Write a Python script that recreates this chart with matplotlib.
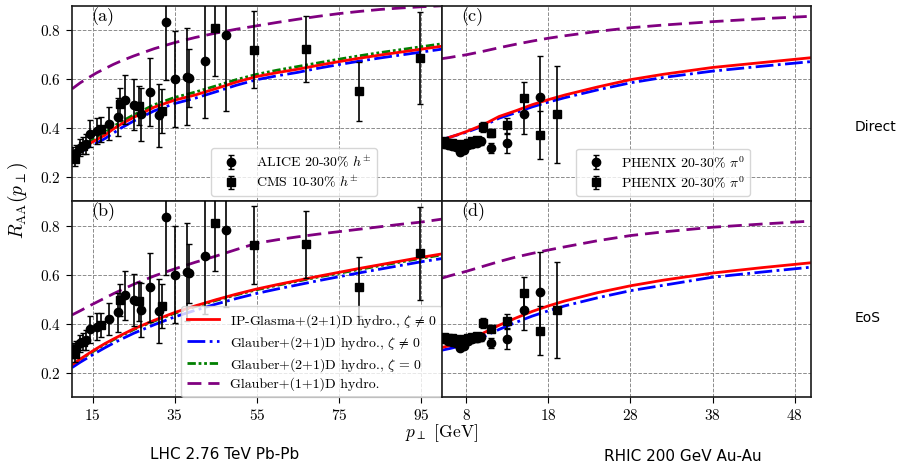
import matplotlib
matplotlib.use("Agg")
import matplotlib.pyplot as plt

plt.rcParams["font.family"] = ["cmr10", "DejaVu Serif"]
plt.rcParams["mathtext.fontset"] = "cm"
plt.rcParams["axes.formatter.use_mathtext"] = True
plt.rcParams["axes.unicode_minus"] = False

# ---- LHC data (same points in panels a and b) ----
alice_pt = [10.3, 11.0, 11.9, 13.3, 14.5, 16.1, 19.0, 21.1, 23.0, 25.1, 26.9, 29.0,
            31.1, 33.0, 35.0, 37.9, 38.5, 42.4, 47.4]
alice_raa = [0.29, 0.299, 0.319, 0.333, 0.376, 0.387, 0.418, 0.445, 0.516, 0.496, 0.455,
             0.548, 0.451, 0.833, 0.60, 0.61, 0.605, 0.675, 0.782]
alice_err = [0.03, 0.03, 0.035, 0.04, 0.055, 0.055, 0.066, 0.078, 0.10, 0.105, 0.11, 0.14,
             0.13, 0.235, 0.198, 0.20, 0.12, 0.236, 0.313]

cms_pt = [10.7, 12.7, 17.0, 21.7, 26.4, 32.0, 44.7, 54.3, 67.0, 79.8, 94.8]
cms_raa = [0.274, 0.326, 0.394, 0.497, 0.49, 0.471, 0.809, 0.72, 0.723, 0.55, 0.686]
cms_err = [0.03, 0.035, 0.05, 0.065, 0.08, 0.09, 0.195, 0.158, 0.136, 0.121, 0.188]

# ---- LHC model curves ----
lhc_pt = [10, 12, 14, 16, 18, 20, 22, 25, 30, 35, 40, 45, 50, 55, 60, 65, 70, 75, 80,
          85, 90, 95, 100]
# panel (a): Direct
a_ipg = [0.27, 0.315, 0.333, 0.352, 0.37, 0.395, 0.416, 0.443, 0.485, 0.514, 0.535, 0.561,
         0.588, 0.611, 0.627, 0.641, 0.657, 0.672, 0.686, 0.699, 0.711, 0.723, 0.735]
a_glb = [0.262, 0.30, 0.32, 0.338, 0.356, 0.378, 0.40, 0.428, 0.47, 0.50, 0.522, 0.548,
         0.575, 0.598, 0.614, 0.628, 0.645, 0.66, 0.674, 0.687, 0.699, 0.711, 0.723]
a_glb0 = [0.275, 0.32, 0.34, 0.36, 0.38, 0.405, 0.426, 0.453, 0.495, 0.525, 0.547, 0.572,
          0.598, 0.62, 0.637, 0.652, 0.667, 0.682, 0.696, 0.709, 0.721, 0.733, 0.745]
a_1d = [0.56, 0.585, 0.606, 0.626, 0.643, 0.66, 0.675, 0.695, 0.725, 0.75, 0.771, 0.789,
        0.805, 0.819, 0.833, 0.846, 0.858, 0.869, 0.878, 0.886, 0.892, 0.897, 0.901]
# panel (b): EoS
b_ipg = [0.232, 0.255, 0.277, 0.298, 0.318, 0.336, 0.353, 0.378, 0.413, 0.445, 0.472, 0.497,
         0.52, 0.541, 0.559, 0.576, 0.593, 0.609, 0.625, 0.64, 0.655, 0.67, 0.684]
b_glb = [0.22, 0.242, 0.262, 0.282, 0.301, 0.319, 0.336, 0.36, 0.395, 0.427, 0.454, 0.479,
         0.502, 0.523, 0.541, 0.558, 0.575, 0.591, 0.607, 0.622, 0.637, 0.652, 0.665]
b_glb0 = [0.228, 0.252, 0.274, 0.295, 0.315, 0.333, 0.35, 0.375, 0.41, 0.442, 0.469, 0.494,
          0.517, 0.538, 0.556, 0.573, 0.59, 0.605, 0.621, 0.636, 0.651, 0.666, 0.68]
b_1d = [0.435, 0.452, 0.47, 0.487, 0.504, 0.521, 0.537, 0.56, 0.594, 0.623, 0.65, 0.675,
        0.702, 0.728, 0.742, 0.754, 0.765, 0.775, 0.785, 0.795, 0.805, 0.814, 0.826]

# ---- RHIC data ----
phx_c_pt = [5.25, 5.75, 6.25, 6.75, 7.25, 7.75, 8.25, 8.75, 9.25, 9.75, 11, 13, 15, 17]
phx_c_raa = [0.335, 0.33, 0.325, 0.32, 0.30, 0.31, 0.33, 0.335, 0.34, 0.345, 0.319, 0.337,
             0.455, 0.527]
phx_c_err = [0.01, 0.01, 0.01, 0.01, 0.01, 0.01, 0.012, 0.012, 0.015, 0.015, 0.02, 0.04,
             0.08, 0.166]
phx_s_pt = [5.25, 5.75, 6.25, 6.75, 7.25, 7.75, 8.25, 8.75, 9.25, 10, 11, 13, 15, 17, 19]
phx_s_raa = [0.345, 0.34, 0.34, 0.335, 0.33, 0.335, 0.34, 0.345, 0.35, 0.403, 0.379, 0.41,
             0.523, 0.371, 0.455]
phx_s_err = [0.008, 0.008, 0.008, 0.008, 0.008, 0.008, 0.01, 0.01, 0.012, 0.02, 0.015, 0.03,
             0.065, 0.10, 0.197]

# ---- RHIC model curves ----
rhic_pt = [5, 6, 7, 8, 10, 12, 14, 16, 18, 20, 24, 28, 32, 38, 44, 50]
c_ipg = [0.35, 0.362, 0.373, 0.385, 0.412, 0.447, 0.47, 0.495, 0.516, 0.535, 0.568, 0.598,
         0.62, 0.648, 0.668, 0.688]
c_glb = [0.352, 0.362, 0.372, 0.382, 0.407, 0.44, 0.462, 0.486, 0.506, 0.524, 0.556, 0.585,
         0.607, 0.633, 0.653, 0.672]
c_1d = [0.684, 0.689, 0.695, 0.70, 0.714, 0.729, 0.743, 0.756, 0.768, 0.778, 0.796, 0.811,
        0.822, 0.836, 0.848, 0.858]
d_ipg = [0.302, 0.31, 0.319, 0.329, 0.36, 0.393, 0.422, 0.449, 0.472, 0.492, 0.526, 0.554,
         0.577, 0.606, 0.628, 0.648]
d_glb = [0.291, 0.298, 0.306, 0.316, 0.345, 0.376, 0.404, 0.43, 0.452, 0.472, 0.505, 0.534,
         0.556, 0.589, 0.61, 0.63]
d_1d = [0.585, 0.595, 0.604, 0.613, 0.633, 0.653, 0.671, 0.686, 0.70, 0.713, 0.738, 0.759,
        0.774, 0.793, 0.806, 0.818]

lhc_ticks = [15, 35, 55, 75, 95]
rhic_ticks = [8, 18, 28, 38, 48]
raa_ticks = [0.2, 0.4, 0.6, 0.8]

LBL_IPG = r"IP-Glasma+(2+1)D hydro., $\zeta\,\neq\,0$"
LBL_GLB = r"Glauber+(2+1)D hydro., $\zeta\,\neq\,0$"
LBL_GLB0 = r"Glauber+(2+1)D hydro., $\zeta\,=\,0$"
LBL_1D = "Glauber+(1+1)D hydro."

fig = plt.figure(figsize=(9, 4.65), dpi=100)
L, M, R = 0.08, 0.4908, 0.9011
B, C, T = 0.1462, 0.5677, 0.987
ax_a = fig.add_axes([L, C, M - L, T - C])
ax_b = fig.add_axes([L, B, M - L, C - B])
ax_c = fig.add_axes([M, C, R - M, T - C])
ax_d = fig.add_axes([M, B, R - M, C - B])

lw = 2.0
dash_long = (0, (5, 2.5))
dash_dotdot = (0, (3, 1, 1, 1, 1, 1))


def data_points(ax, x, y, e, marker, label):
    return ax.errorbar(x, y, yerr=e, fmt=marker, color="black", ms=6, capsize=2,
                       elinewidth=1.2, capthick=1, label=label, zorder=5)


def style(ax, xlim, xticks, left, bottom):
    ax.set_xlim(*xlim)
    ax.set_ylim(0.1, 0.9)
    ax.set_xticks(xticks)
    ax.set_yticks(raa_ticks)
    ax.grid(True, linestyle="--", color="0.55", lw=0.7)
    ax.set_axisbelow(True)
    ax.tick_params(labelsize=11, direction="out", length=4.5)
    if not left:
        ax.tick_params(axis="y", labelleft=False, length=0)
    if not bottom:
        ax.tick_params(axis="x", labelbottom=False, length=0)
    for s in ax.spines.values():
        s.set_linewidth(1.2)
        s.set_color("0.1")


leg_kw = dict(fontsize=10, labelspacing=0.3, borderpad=0.4)

# panel (a)
data_points(ax_a, alice_pt, alice_raa, alice_err, "o", r"ALICE 20-30% $h^{\pm}$")
data_points(ax_a, cms_pt, cms_raa, cms_err, "s", r"CMS 10-30% $h^{\pm}$")
ax_a.plot(lhc_pt, a_1d, color="purple", lw=lw, ls=dash_long)
ax_a.plot(lhc_pt, a_glb0, color="green", lw=lw, ls=dash_dotdot)
ax_a.plot(lhc_pt, a_glb, color="blue", lw=lw, ls="-.")
ax_a.plot(lhc_pt, a_ipg, color="red", lw=lw)
ax_a.legend(loc="lower center", bbox_to_anchor=(0.6, 0.005), borderaxespad=0.3, **leg_kw)

# panel (b)
data_points(ax_b, alice_pt, alice_raa, alice_err, "o", None)
data_points(ax_b, cms_pt, cms_raa, cms_err, "s", None)
h1d, = ax_b.plot(lhc_pt, b_1d, color="purple", lw=lw, ls=dash_long, label=LBL_1D)
hg0, = ax_b.plot(lhc_pt, b_glb0, color="green", lw=lw, ls=dash_dotdot, label=LBL_GLB0)
hgl, = ax_b.plot(lhc_pt, b_glb, color="blue", lw=lw, ls="-.", label=LBL_GLB)
hip, = ax_b.plot(lhc_pt, b_ipg, color="red", lw=lw, label=LBL_IPG)
leg_b = ax_b.legend(handles=[hip, hgl, hg0, h1d], loc="lower right", borderaxespad=0.0,
                    handlelength=2.3, **leg_kw)
leg_b.set_zorder(20)

# panel (c)
data_points(ax_c, phx_c_pt, phx_c_raa, phx_c_err, "o", r"PHENIX 20-30% $\pi^0$")
data_points(ax_c, phx_s_pt, phx_s_raa, phx_s_err, "s", r"PHENIX 20-30% $\pi^0$")
ax_c.plot(rhic_pt, c_1d, color="purple", lw=lw, ls=dash_long)
ax_c.plot(rhic_pt, c_glb, color="blue", lw=lw, ls="-.")
ax_c.plot(rhic_pt, c_ipg, color="red", lw=lw)
ax_c.legend(loc="lower center", bbox_to_anchor=(0.6, 0.005), borderaxespad=0.3, **leg_kw)

# panel (d)
data_points(ax_d, phx_c_pt, phx_c_raa, phx_c_err, "o", None)
data_points(ax_d, phx_s_pt, phx_s_raa, phx_s_err, "s", None)
ax_d.plot(rhic_pt, d_1d, color="purple", lw=lw, ls=dash_long)
ax_d.plot(rhic_pt, d_glb, color="blue", lw=lw, ls="-.")
ax_d.plot(rhic_pt, d_ipg, color="red", lw=lw)

style(ax_a, (10, 100), lhc_ticks, True, False)
style(ax_b, (10, 100), lhc_ticks, True, True)
style(ax_c, (5, 50), rhic_ticks, False, False)
style(ax_d, (5, 50), rhic_ticks, False, True)

for ax, tag in zip([ax_a, ax_b, ax_c, ax_d], ["(a)", "(b)", "(c)", "(d)"]):
    ax.text(0.053, 0.945, tag, transform=ax.transAxes, fontsize=13, va="center")

fig.text(0.02, 0.568, r"$R_{\rm AA}(p_\perp)$", rotation=90, fontsize=14,
         ha="center", va="center")
fig.text(0.49, 0.068, r"$p_\perp$ [GeV]", fontsize=12.5, ha="center", va="center")
fig.text(0.95, 0.7275, "Direct", fontsize=10, family="DejaVu Sans", va="center")
fig.text(0.95, 0.317, "EoS", fontsize=10, family="DejaVu Sans", va="center")
fig.text(0.25, 0.022, "LHC 2.76 TeV Pb-Pb", fontsize=11, family="DejaVu Sans",
         ha="center", va="center")
fig.text(0.759, 0.018, "RHIC 200 GeV Au-Au", fontsize=11, family="DejaVu Sans",
         ha="center", va="center")

fig.savefig("out.png", dpi=100)
